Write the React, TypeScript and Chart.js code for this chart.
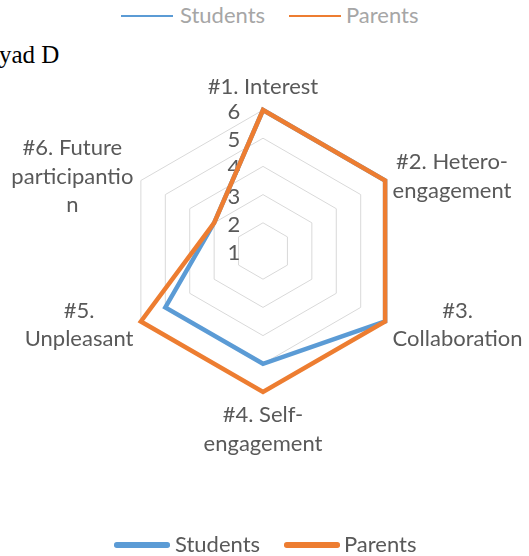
import React, { useEffect, useRef } from "react";
import { Chart, registerables } from "chart.js";

Chart.register(...registerables);

const categories: string[][] = [
  ["#1. Interest"],
  ["#2. Hetero-", "engagement"],
  ["#3.", "Collaboration"],
  ["#4. Self-", "engagement"],
  ["#5.", "Unpleasant"],
  ["#6. Future", "participantio", "n"],
];
const studentsValues = [6, 6, 6, 5, 5, 3];
const parentsValues = [6, 6, 6, 6, 6, 3];
const scaleMin = 1;
const scaleMax = 6;
const tickStep = 1;
const seriesNames = ["Students", "Parents"];
const seriesColors = ["#5B9BD5", "#ED7D31"];

const FONT_FAMILY = "Lato, 'Open Sans', sans-serif";
const LABEL_FONT = `22px ${FONT_FAMILY}`;
const TEXT_COLOR = "#595959";

const labelPlugin = {
  id: "customLabels",
  beforeDatasetsDraw(chart: any) {
    const s = chart.scales.r;
    const ctx = chart.ctx;
    ctx.save();
    ctx.font = LABEL_FONT;
    ctx.fillStyle = TEXT_COLOR;
    ctx.textAlign = "center";
    ctx.textBaseline = "middle";
    s.ticks.forEach((t: any) => {
      const d = s.getDistanceFromCenterForValue(t.value);
      ctx.fillText(String(t.value), s.xCenter - 29, s.yCenter - d + 2);
    });
    ctx.restore();
  },
  afterDraw(chart: any) {
    const s = chart.scales.r;
    const ctx = chart.ctx;
    ctx.save();
    ctx.font = LABEL_FONT;
    ctx.fillStyle = TEXT_COLOR;
    ctx.textAlign = "center";
    ctx.textBaseline = "middle";
    const lineH = 28.5;
    const gap = 7.5;
    categories.forEach((lines, i) => {
      const p = s.getPointPosition(i, s.drawingArea);
      const dx = p.x - s.xCenter;
      const w = Math.max(...lines.map((l) => ctx.measureText(l).width));
      const n = lines.length;
      let cx = p.x;
      let firstY: number;
      if (Math.abs(dx) < 1) {
        if (p.y < s.yCenter) {
          firstY = p.y - 23 - (n - 1) * lineH;
        } else {
          firstY = p.y + 23;
        }
      } else {
        cx = dx > 0 ? p.x + gap + w / 2 : p.x - gap - w / 2;
        const cy = p.y + (p.y < s.yCenter ? -4 : 3.5);
        firstY = cy - ((n - 1) * lineH) / 2;
      }
      lines.forEach((l, k) => ctx.fillText(l, cx, firstY + k * lineH));
    });
    ctx.restore();
  },
};

function ChartCanvas() {
  const ref = useRef<HTMLCanvasElement | null>(null);
  useEffect(() => {
    if (!ref.current) return;
    const chart = new Chart(ref.current, {
      type: "radar",
      data: {
        labels: categories,
        datasets: [
          {
            label: seriesNames[0],
            data: studentsValues,
            borderColor: seriesColors[0],
            backgroundColor: "transparent",
            borderWidth: 4.5,
            borderJoinStyle: "miter",
            pointRadius: 0,
            fill: false,
            order: 2,
          },
          {
            label: seriesNames[1],
            data: parentsValues,
            borderColor: seriesColors[1],
            backgroundColor: "transparent",
            borderWidth: 4.5,
            borderJoinStyle: "miter",
            pointRadius: 0,
            fill: false,
            order: 1,
          },
        ],
      },
      options: {
        responsive: false,
        animation: false,
        devicePixelRatio: 1,
        layout: { padding: { left: 122, right: 125, top: 110, bottom: 164 } },
        plugins: { legend: { display: false }, tooltip: { enabled: false } },
        elements: { line: { tension: 0 } },
        scales: {
          r: {
            min: scaleMin,
            max: scaleMax,
            ticks: { stepSize: tickStep, display: false },
            pointLabels: { display: false },
            angleLines: { display: false },
            grid: { color: "#d9d9d9", lineWidth: 1, circular: false },
          },
        },
      },
      plugins: [labelPlugin],
    } as any);
    return () => chart.destroy();
  }, []);
  return (
    <canvas
      ref={ref}
      width={529}
      height={556}
      style={{ position: "absolute", left: 0, top: 0, width: 529, height: 556 }}
    />
  );
}

function LegendItem({ x, y, lineW, thick, color, label, textColor, round, textGap }: any) {
  return (
    <>
      <div
        style={{
          position: "absolute",
          left: x,
          top: y - thick / 2,
          width: lineW,
          height: thick,
          background: color,
          borderRadius: round ? thick / 2 : 0,
        }}
      />
      <span
        style={{
          position: "absolute",
          left: x + lineW + textGap,
          top: y - 15,
          lineHeight: "32px",
          font: LABEL_FONT,
          color: textColor,
          whiteSpace: "nowrap",
        }}
      >
        {label}
      </span>
    </>
  );
}

export default function App() {
  return (
    <div style={{ position: "absolute", left: 0, top: 0, width: 529, height: 556, overflow: "hidden", background: "#fff" }}>
      <LegendItem x={121} y={16} lineW={52} thick={2} color={seriesColors[0]} label={seriesNames[0]} textColor="#a6a6a6" textGap={7} />
      <LegendItem x={289} y={16} lineW={52} thick={2} color={seriesColors[1]} label={seriesNames[1]} textColor="#a6a6a6" textGap={5} />
      <div
        style={{
          position: "absolute",
          left: -1,
          top: 42,
          font: "25px 'Liberation Serif', 'Times New Roman', serif",
          lineHeight: "25px",
          color: "#000",
          whiteSpace: "nowrap",
        }}
      >
        yad D
      </div>
      <ChartCanvas />
      <LegendItem x={114} y={545} lineW={56} thick={5.5} color={seriesColors[0]} label={seriesNames[0]} textColor={TEXT_COLOR} round textGap={5} />
      <LegendItem x={284} y={545} lineW={56} thick={5.5} color={seriesColors[1]} label={seriesNames[1]} textColor={TEXT_COLOR} round textGap={4} />
    </div>
  );
}
